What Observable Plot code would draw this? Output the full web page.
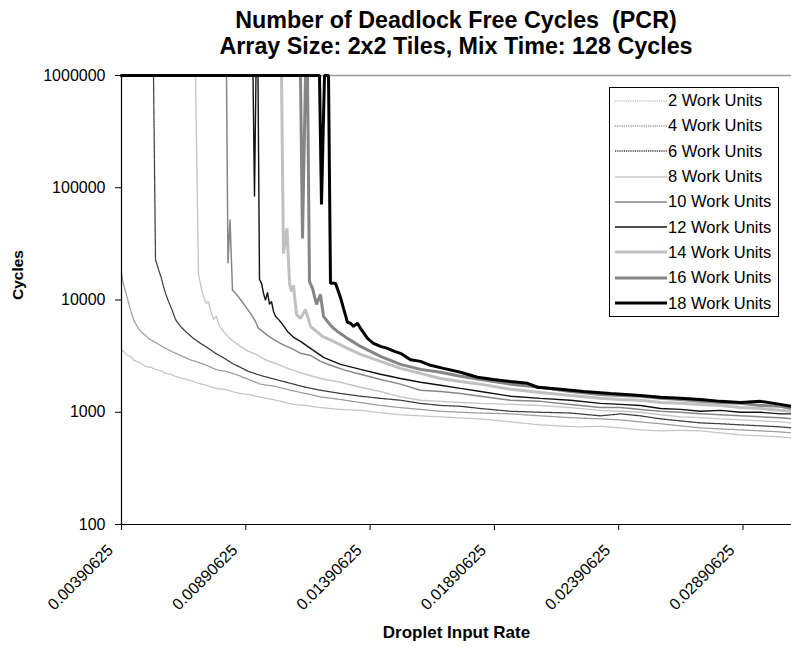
<!DOCTYPE html>
<html><head><meta charset="utf-8">
<script src="https://cdn.jsdelivr.net/npm/d3@7"></script>
<script src="https://cdn.jsdelivr.net/npm/@observablehq/plot@0.6"></script>
<style>
body{margin:0;background:#fff;font-family:"Liberation Sans",Arial,sans-serif;}
#wrap{position:relative;width:791px;height:647px;overflow:hidden;background:#fff;}
#title{height:59px;padding-left:121px;padding-top:7px;box-sizing:border-box;text-align:center;font-weight:bold;font-size:23.3px;line-height:26px;color:#000;}
#legend{position:absolute;left:609px;top:87px;width:168px;border:1px solid #000;background:#fff;}
.row{display:flex;align-items:center;height:25.3px;font-size:16.5px;color:#000;white-space:nowrap;}
.row svg{margin-left:5px;margin-right:1px;display:block;}
</style></head>
<body><div id="wrap">
<div id="title">Number of Deadlock Free Cycles&nbsp; (PCR)<br>Array Size: 2x2 Tiles, Mix Time: 128 Cycles</div>
<div id="chart"></div>
<div id="legend"></div>
</div>
<script>
const seriesNames = ["2 Work Units","4 Work Units","6 Work Units","8 Work Units","10 Work Units","12 Work Units","14 Work Units","16 Work Units","18 Work Units"];
const xTicks = [0.00390625, 0.00890625, 0.01390625, 0.01890625, 0.02390625, 0.02890625];
const xTickLabels = ["0.00390625","0.00890625","0.01390625","0.01890625","0.02390625","0.02890625"];
const xMax = 0.030857;
const yTicks = [100, 1000, 10000, 100000, 1000000];

const wu2 = [[0.003906,3630],[0.004027,3400],[0.004148,3200],[0.004268,3150],[0.004389,2930],[0.004510,2840],[0.004671,2750],[0.004872,2560],[0.005073,2520],[0.005274,2410],[0.005475,2360],[0.005676,2220],[0.005877,2180],[0.006078,2090],[0.006360,2000],[0.006682,1920],[0.007004,1810],[0.007325,1740],[0.007687,1630],[0.008049,1600],[0.008371,1530],[0.008693,1470],[0.009015,1440],[0.009497,1360],[0.009980,1300],[0.010503,1220],[0.010825,1175],[0.011308,1150],[0.011911,1100],[0.012715,1060],[0.013520,1040],[0.014324,990],[0.015129,950],[0.015933,929],[0.016738,910],[0.017542,890],[0.018347,873],[0.019152,838],[0.019956,804],[0.020760,772],[0.021565,755],[0.022369,741],[0.023174,750],[0.023978,726],[0.024783,697],[0.025587,683],[0.026392,690],[0.027196,683],[0.028001,655],[0.028805,629],[0.029610,616],[0.030414,603],[0.030857,591]];
const wu4 = [[0.003906,17300],[0.003987,13800],[0.004067,11900],[0.004148,10300],[0.004228,8770],[0.004309,7600],[0.004389,6720],[0.004469,6190],[0.004590,5580],[0.004711,5150],[0.004872,4840],[0.004992,4550],[0.005194,4280],[0.005395,4030],[0.005676,3710],[0.005998,3420],[0.006360,3150],[0.006682,2930],[0.007004,2780],[0.007325,2620],[0.007687,2410],[0.008090,2310],[0.008492,2180],[0.009015,1960],[0.009497,1780],[0.010101,1700],[0.010704,1570],[0.011308,1470],[0.011911,1370],[0.012715,1300],[0.013520,1220],[0.014324,1150],[0.015129,1100],[0.015933,1060],[0.016738,1020],[0.017542,1000],[0.018347,985],[0.019554,968],[0.020760,929],[0.021967,895],[0.023174,873],[0.023978,855],[0.024783,820],[0.025587,790],[0.026392,757],[0.027196,726],[0.028001,711],[0.028805,697],[0.029610,683],[0.030414,668],[0.030857,655]];
const wu6 = [[0.003906,1e6],[0.005194,1e6],[0.005274,23000],[0.005395,18700],[0.005515,15600],[0.005596,13200],[0.005676,11500],[0.005797,9720],[0.005917,8420],[0.006078,6720],[0.006279,5820],[0.006521,5150],[0.006802,4550],[0.007084,4110],[0.007406,3710],[0.007687,3350],[0.008049,3020],[0.008371,2720],[0.008693,2510],[0.009015,2310],[0.009497,2130],[0.010101,1960],[0.010704,1810],[0.011308,1670],[0.011911,1570],[0.012715,1470],[0.013520,1390],[0.014324,1330],[0.015129,1280],[0.015933,1200],[0.016738,1150],[0.017542,1130],[0.018347,1080],[0.019554,1020],[0.020760,1000],[0.021967,985],[0.023174,929],[0.023978,968],[0.024783,929],[0.025587,873],[0.026392,838],[0.027196,804],[0.028001,790],[0.028805,772],[0.029610,757],[0.030414,741],[0.030857,726]];
const wu8 = [[0.003906,1e6],[0.006883,1e6],[0.007004,16900],[0.007084,13800],[0.007165,11500],[0.007245,10100],[0.007325,9330],[0.007406,9720],[0.007486,8080],[0.007607,6720],[0.007728,7150],[0.007848,5820],[0.008009,5250],[0.008210,4650],[0.008411,4280],[0.008693,3860],[0.009015,3490],[0.009337,3280],[0.009699,2930],[0.010101,2720],[0.010704,2410],[0.011308,2180],[0.011911,2000],[0.012715,1850],[0.013520,1670],[0.014324,1530],[0.015129,1370],[0.015933,1280],[0.016738,1250],[0.017542,1220],[0.018347,1200],[0.019554,1175],[0.020760,1150],[0.021967,1100],[0.023174,1040],[0.023978,1020],[0.024783,1000],[0.025587,950],[0.026392,910],[0.027196,895],[0.028001,873],[0.028805,855],[0.029610,838],[0.030414,820],[0.030857,804]];
const wu10 = [[0.003906,1e6],[0.008130,1e6],[0.008190,21200],[0.008271,52000],[0.008371,12200],[0.008532,11200],[0.008693,10100],[0.008894,8770],[0.009095,7600],[0.009296,6440],[0.009417,5580],[0.009578,5250],[0.009779,4840],[0.010020,4460],[0.010302,4110],[0.010543,3860],[0.010825,3630],[0.011106,3350],[0.011509,3210],[0.011911,2840],[0.012313,2620],[0.012917,2360],[0.013520,2180],[0.014324,1960],[0.015129,1780],[0.015933,1570],[0.016738,1530],[0.017542,1470],[0.018347,1390],[0.019554,1280],[0.020760,1250],[0.021967,1175],[0.023174,1100],[0.023978,1100],[0.024783,1060],[0.025587,1020],[0.026392,1000],[0.027196,968],[0.028001,950],[0.028805,929],[0.029610,910],[0.030414,895],[0.030857,873]];
const wu12 = [[0.003906,1e6],[0.009196,1e6],[0.009256,83700],[0.009316,1e6],[0.009397,1e6],[0.009457,15300],[0.009538,14100],[0.009618,11500],[0.009699,9920],[0.009779,11700],[0.009860,9140],[0.009940,9720],[0.010020,7910],[0.010101,7150],[0.010221,6720],[0.010382,6060],[0.010583,5250],[0.010825,4650],[0.011106,4280],[0.011509,3710],[0.012032,3080],[0.012715,2670],[0.013520,2410],[0.014324,2180],[0.015129,2000],[0.015933,1850],[0.016738,1740],[0.017542,1630],[0.018347,1530],[0.019554,1390],[0.020760,1330],[0.021967,1280],[0.023174,1200],[0.023978,1175],[0.024783,1150],[0.025587,1080],[0.026392,1060],[0.027196,1020],[0.028001,1040],[0.028805,1000],[0.029610,1000],[0.030414,968],[0.030857,968]];
const wu14 = [[0.003906,1e6],[0.010342,1e6],[0.010422,26000],[0.010563,43400],[0.010664,14100],[0.010744,11900],[0.010825,13500],[0.010945,7440],[0.011106,6850],[0.011308,8240],[0.011509,5820],[0.011750,5250],[0.011991,4740],[0.012434,4280],[0.012997,3710],[0.013520,3280],[0.014324,2840],[0.015129,2460],[0.015933,2220],[0.016738,2000],[0.017542,1880],[0.018347,1780],[0.019554,1600],[0.020760,1500],[0.021967,1410],[0.023174,1330],[0.023978,1300],[0.024783,1280],[0.025587,1220],[0.026392,1200],[0.027196,1175],[0.028001,1150],[0.028805,1100],[0.029610,1080],[0.030414,1040],[0.030857,1020]];
const wu16 = [[0.003906,1e6],[0.011106,1e6],[0.011187,35400],[0.011308,1e6],[0.011388,1e6],[0.011468,14600],[0.011589,12700],[0.011750,9140],[0.011911,11200],[0.012032,7150],[0.012193,6440],[0.012394,5700],[0.012595,5250],[0.012997,4550],[0.013520,3860],[0.014324,3150],[0.015129,2670],[0.015933,2410],[0.016738,2270],[0.017542,2090],[0.018347,1960],[0.019554,1780],[0.020760,1670],[0.021967,1530],[0.023174,1440],[0.023978,1410],[0.024783,1390],[0.025587,1330],[0.026392,1300],[0.027196,1250],[0.028001,1220],[0.028805,1200],[0.029610,1150],[0.030414,1130],[0.030857,1080]];
const wu18 = [[0.003906,1e6],[0.011871,1e6],[0.011951,71000],[0.012072,1e6],[0.012233,1e6],[0.012313,14100],[0.012514,14100],[0.012715,10550],[0.012836,8420],[0.012997,6320],[0.013118,6200],[0.013239,5820],[0.013399,6200],[0.013520,5580],[0.013802,4550],[0.014043,4110],[0.014324,3860],[0.014606,3710],[0.014888,3490],[0.015129,3350],[0.015531,2930],[0.015933,2840],[0.016336,2620],[0.016859,2460],[0.017542,2270],[0.018226,2050],[0.018870,1960],[0.019554,1880],[0.020238,1810],[0.020640,1670],[0.021565,1600],[0.022490,1530],[0.023576,1470],[0.024783,1410],[0.025587,1360],[0.026392,1330],[0.027196,1300],[0.028001,1250],[0.028805,1220],[0.029610,1250],[0.030414,1175],[0.030857,1130]];

const seriesValues = [wu2, wu4, wu6, wu8, wu10, wu12, wu14, wu16, wu18];

// styles (kept separate from data)
const seriesStyles = [
  {stroke: "#c4c4c4", width: 1.3, dash: "1.2,1"},
  {stroke: "#9c9c9c", width: 1.3, dash: "1.2,1"},
  {stroke: "#3c3c3c", width: 1.3, dash: "1.2,1"},
  {stroke: "#c6c6c6", width: 1.4, dash: null},
  {stroke: "#878787", width: 1.5, dash: null},
  {stroke: "#111111", width: 1.4, dash: null},
  {stroke: "#c0c0c0", width: 3, dash: null},
  {stroke: "#858585", width: 3, dash: null},
  {stroke: "#000000", width: 3, dash: null}
];

const table = seriesNames.map((name, i) => seriesValues[i].map(([rate, cycles]) => ({series: name, rate, cycles})));

const lineMarks = table.map((rows, i) => Plot.line(rows, {
  x: "rate", y: "cycles",
  stroke: seriesStyles[i].stroke,
  strokeWidth: seriesStyles[i].width,
  strokeDasharray: seriesStyles[i].dash,
  strokeLinejoin: "miter"
}));

const chart = Plot.plot({
  width: 791, height: 588,
  marginTop: 16, marginRight: 0, marginBottom: 123, marginLeft: 121,
  style: {fontFamily: '"Liberation Sans", Arial, sans-serif', fontSize: "16px", color: "#000", background: "transparent", overflow: "visible"},
  x: {domain: [xTicks[0], xMax]},
  y: {type: "log", domain: [100, 1e6]},
  marks: [
    Plot.ruleY([1e6], {stroke: "#9a9a9a", strokeWidth: 1.5}),
    ...lineMarks,
    Plot.ruleX([xTicks[0]], {stroke: "#000", strokeWidth: 1.2}),
    Plot.ruleY([100], {stroke: "#000", strokeWidth: 1.2}),
    Plot.axisY({ticks: yTicks, tickFormat: d3.format("d"), tickSize: 6, tickPadding: 10, label: null, fontSize: 16}),
    Plot.axisX({ticks: xTicks, tickSize: 6, tickFormat: () => "", label: null}),
    Plot.text(xTicks, {x: d => d, frameAnchor: "bottom", text: (d, i) => xTickLabels[i], rotate: -45, textAnchor: "end", lineAnchor: "middle", dx: -11, dy: 23, fontSize: 16}),
    Plot.text(["Cycles"], {frameAnchor: "left", dx: -103, rotate: -90, fontWeight: "bold", fontSize: 15.5}),
    Plot.text(["Droplet Input Rate"], {frameAnchor: "bottom", dy: 113, fontWeight: "bold", fontSize: 17})
  ]
});
document.getElementById("chart").appendChild(chart);

// legend
const legend = document.getElementById("legend");
seriesNames.forEach((name, i) => {
  const s = seriesStyles[i];
  const row = document.createElement("div");
  row.className = "row";
  row.innerHTML = `<svg width="52" height="6"><line x1="0" y1="3" x2="52" y2="3" stroke="${s.stroke}" stroke-width="${s.width}" ${s.dash ? `stroke-dasharray="${s.dash}"` : ""}/></svg><span>${name}</span>`;
  legend.appendChild(row);
});
</script>
</body></html>
